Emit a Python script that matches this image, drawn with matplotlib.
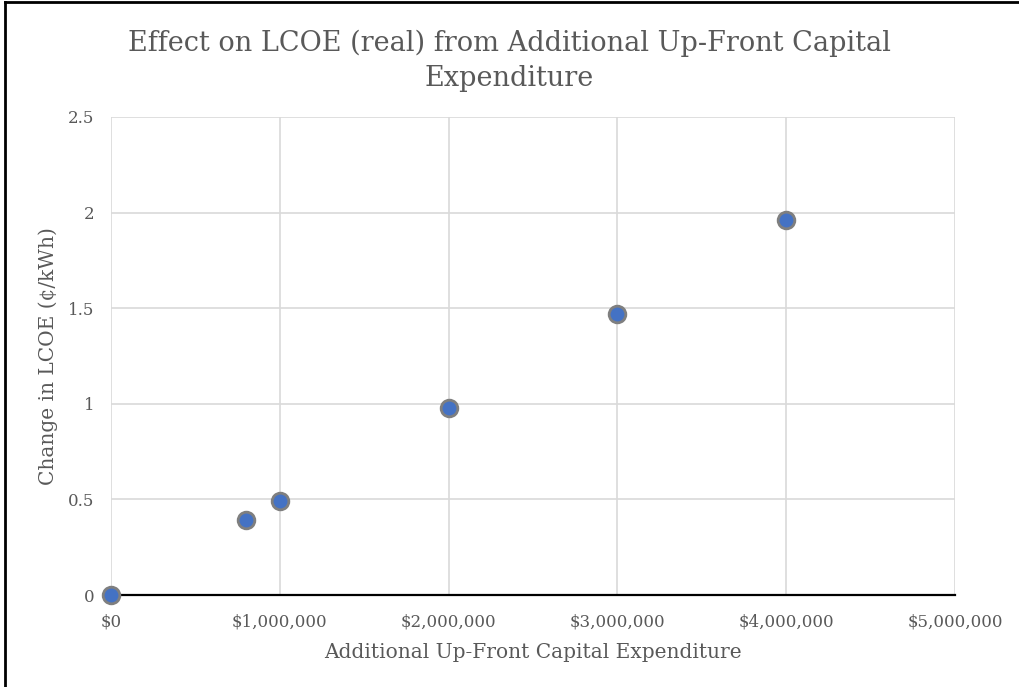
import matplotlib
matplotlib.use("Agg")
import matplotlib.pyplot as plt
from matplotlib.ticker import FuncFormatter, MultipleLocator
from matplotlib.lines import Line2D

# Additional up-front capital expenditure ($) and resulting change in LCOE (c/kWh)
capex = [0, 800000, 1000000, 2000000, 3000000, 4000000]
lcoe_change = [0.0, 0.39, 0.49, 0.98, 1.47, 1.96]

title = "Effect on LCOE (real) from Additional Up-Front Capital\nExpenditure"
x_label = "Additional Up-Front Capital Expenditure"
y_label = "Change in LCOE (¢/kWh)"

plt.rcParams["font.family"] = ["DejaVu Serif"]
text_color = "#595959"
grid_color = "#D9D9D9"

fig = plt.figure(figsize=(10.19, 6.87), dpi=100)
ax = fig.add_axes([0.1089, 0.1339, 0.8283, 0.6958])

ax.set_xlim(0, 5000000)
ax.set_ylim(0, 2.5)
ax.xaxis.set_major_locator(MultipleLocator(1000000))
ax.yaxis.set_major_locator(MultipleLocator(0.5))
ax.xaxis.set_major_formatter(FuncFormatter(lambda v, p: f"${v:,.0f}"))
ax.yaxis.set_major_formatter(FuncFormatter(lambda v, p: f"{v:g}"))

ax.grid(True, color=grid_color, linewidth=1.2)
ax.set_axisbelow(True)
for side in ["top", "right", "left"]:
    ax.spines[side].set_visible(False)
ax.spines["bottom"].set_color("black")
ax.spines["bottom"].set_linewidth(1.6)
ax.spines["bottom"].set_zorder(3)

ax.tick_params(axis="both", length=0, colors=text_color, labelsize=12)
ax.tick_params(axis="x", pad=13)
ax.tick_params(axis="y", pad=12)

ax.plot(capex, lcoe_change, linestyle="none", marker="o", markersize=12,
        markerfacecolor="#4472C4", markeredgecolor="#7F7F7F",
        markeredgewidth=2.0, clip_on=False, zorder=5)

ax.set_xlabel(x_label, fontsize=14.5, color=text_color, labelpad=9)
ax.set_ylabel(y_label, fontsize=14.5, color=text_color, labelpad=7)
fig.text(0.5, 0.9113, title, ha="center", va="center", fontsize=19.5,
         color=text_color, linespacing=1.38)

# Frame edges along the top and left of the figure
fig.add_artist(Line2D([0.0049, 0.0049], [0, 0.997], color="black", linewidth=2,
                      transform=fig.transFigure))
fig.add_artist(Line2D([0.0049, 1], [0.997, 0.997], color="black", linewidth=2,
                      transform=fig.transFigure))

fig.savefig("out.png", dpi=100, facecolor="white")
